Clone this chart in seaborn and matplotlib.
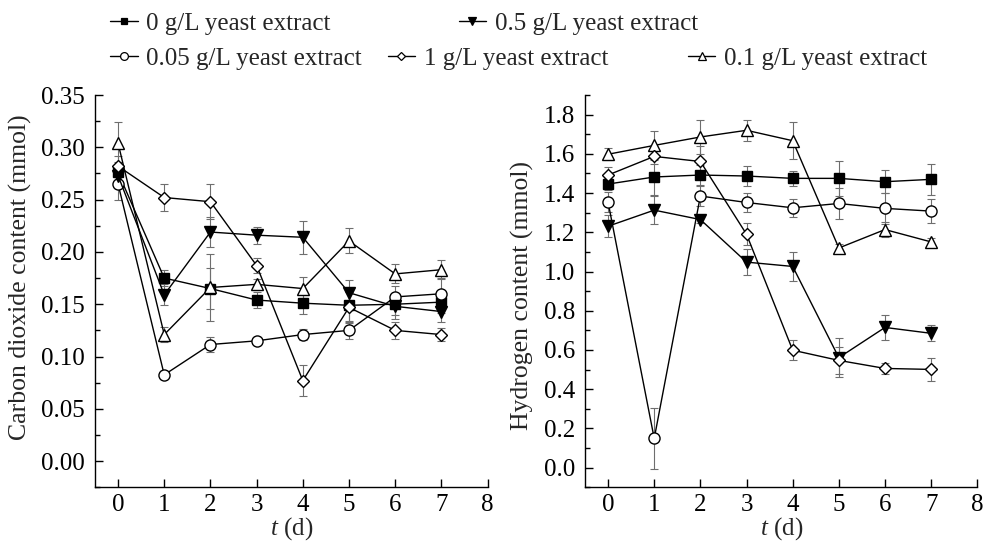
import matplotlib
matplotlib.use("Agg")
import matplotlib.pyplot as plt
from matplotlib.lines import Line2D
from matplotlib.ticker import AutoMinorLocator, MultipleLocator
import seaborn as sns

# ── data ──────────────────────────────────────────────────────────────
days = [0, 1, 2, 3, 4, 5, 6, 7]
labels = ["0 g/L yeast extract", "0.05 g/L yeast extract", "0.1 g/L yeast extract",
          "0.5 g/L yeast extract", "1 g/L yeast extract"]

# carbon dioxide (mmol)
co2_0 = [0.276, 0.175, 0.165, 0.154, 0.151, 0.149, 0.150, 0.152]
co2_005 = [0.265, 0.0825, 0.1115, 0.115, 0.121, 0.125, 0.157, 0.160]
co2_01 = [0.304, 0.121, 0.166, 0.169, 0.165, 0.2105, 0.179, 0.183]
co2_05 = [0.273, 0.159, 0.219, 0.216, 0.214, 0.161, 0.148, 0.143]
co2_1 = [0.282, 0.252, 0.248, 0.187, 0.077, 0.147, 0.125, 0.121]

co2_err_0 = [0.010, 0.008, 0.020, 0.008, 0.010, 0.015, 0.010, 0.010]
co2_err_005 = [0.015, 0.004, 0.007, 0.004, 0.005, 0.008, 0.010, 0.015]
co2_err_01 = [0.020, 0.007, 0.032, 0.005, 0.011, 0.012, 0.009, 0.009]
co2_err_05 = [0.010, 0.010, 0.014, 0.008, 0.016, 0.012, 0.012, 0.010]
co2_err_1 = [0.010, 0.013, 0.017, 0.007, 0.015, 0.015, 0.008, 0.006]

# hydrogen (mmol)
h2_0 = [1.446, 1.482, 1.492, 1.487, 1.475, 1.475, 1.458, 1.470]
h2_005 = [1.354, 0.149, 1.385, 1.352, 1.325, 1.347, 1.322, 1.308]
h2_01 = [1.598, 1.643, 1.686, 1.720, 1.667, 1.120, 1.214, 1.151]
h2_05 = [1.231, 1.313, 1.265, 1.048, 1.026, 0.561, 0.715, 0.685]
h2_1 = [1.492, 1.587, 1.561, 1.190, 0.599, 0.547, 0.506, 0.501]

h2_err_0 = [0.030, 0.090, 0.050, 0.050, 0.040, 0.090, 0.058, 0.080]
h2_err_005 = [0.050, 0.155, 0.050, 0.050, 0.045, 0.080, 0.080, 0.060]
h2_err_01 = [0.030, 0.075, 0.085, 0.055, 0.095, 0.020, 0.040, 0.020]
h2_err_05 = [0.055, 0.070, 0.020, 0.065, 0.075, 0.100, 0.065, 0.040]
h2_err_1 = [0.040, 0.040, 0.080, 0.055, 0.050, 0.070, 0.030, 0.060]

# ── style ─────────────────────────────────────────────────────────────
sns.set_theme(style="ticks")
plt.rcParams.update({
    "font.family": ["Liberation Serif", "DejaVu Serif"],
    "mathtext.fontset": "custom",
    "mathtext.rm": "Liberation Serif",
    "mathtext.it": "Liberation Serif:italic",
    "font.size": 18,
    "axes.linewidth": 1.0,
    "axes.edgecolor": "black",
})

STYLES = [  # marker, face, size
    ("s", "black", 7),
    ("o", "white", 8),
    ("^", "white", 9),
    ("v", "black", 9),
    ("D", "white", 6.5),
]
ERR_COLOR = "#6e6e6e"
FS = 18


def draw_panel(ax, series, errors, ylim, ymajor, fmt):
    for (marker, face, size), y, e in zip(STYLES, series, errors):
        ax.errorbar(days, y, yerr=e, fmt="none", ecolor=ERR_COLOR,
                    elinewidth=0.8, capsize=3, capthick=0.8, zorder=1)
        sns.lineplot(x=days, y=y, ax=ax, color="black", linewidth=1.0,
                     marker=marker, markersize=size, markerfacecolor=face,
                     markeredgecolor="black", markeredgewidth=1.0, zorder=3)
    ax.set_xlim(-0.5, 8)
    ax.set_ylim(*ylim)
    ax.xaxis.set_major_locator(MultipleLocator(1))
    ax.yaxis.set_major_locator(MultipleLocator(ymajor))
    ax.yaxis.set_minor_locator(AutoMinorLocator(2))
    ax.yaxis.set_major_formatter(fmt)
    ax.tick_params(axis="both", which="both", direction="in", labelsize=FS,
                   colors="black", top=False, right=False)
    ax.tick_params(which="major", length=6, width=1.0, pad=7)
    ax.tick_params(axis="x", which="major", pad=5)
    ax.tick_params(which="minor", length=3.5, width=1.0)
    sns.despine(ax=ax)
    ax.set_xlabel("$t$ (d)", fontsize=FS, labelpad=-1)


fig = plt.figure(figsize=(9.84, 5.46), dpi=100)
ax1 = fig.add_axes([0.0965, 0.1075, 0.399, 0.7185])
ax2 = fig.add_axes([0.5945, 0.1075, 0.3987, 0.7185])

draw_panel(ax1, [co2_0, co2_005, co2_01, co2_05, co2_1],
           [co2_err_0, co2_err_005, co2_err_01, co2_err_05, co2_err_1],
           (-0.025, 0.35), 0.05, "{x:.2f}")
ax1.set_ylabel("Carbon dioxide content (mmol)", fontsize=FS + 0.5)
ax1.yaxis.set_label_coords(-0.16, 0.535)

draw_panel(ax2, [h2_0, h2_005, h2_01, h2_05, h2_1],
           [h2_err_0, h2_err_005, h2_err_01, h2_err_05, h2_err_1],
           (-0.1, 1.9), 0.2, "{x:.1f}")
ax2.set_ylabel("Hydrogen content (mmol)", fontsize=FS + 0.5)
ax2.yaxis.set_label_coords(-0.13, 0.49)

# ── legend: five single entries placed like the original ──────────────
legend_pos = [(0.112, 0.957), (0.112, 0.893), (0.699, 0.893),
              (0.466, 0.957), (0.394, 0.893)]
for (marker, face, size), lab, pos in zip(STYLES, labels, legend_pos):
    h = Line2D([0], [0], color="black", linewidth=1.0, marker=marker,
               markersize=size * 0.7, markerfacecolor=face,
               markeredgecolor="black", markeredgewidth=0.9)
    fig.legend(handles=[h], labels=[lab], loc="center left",
               bbox_to_anchor=pos, frameon=False, fontsize=FS,
               handlelength=1.1, handletextpad=0.35, borderpad=0,
               borderaxespad=0)

fig.savefig("out.png", dpi=100)
